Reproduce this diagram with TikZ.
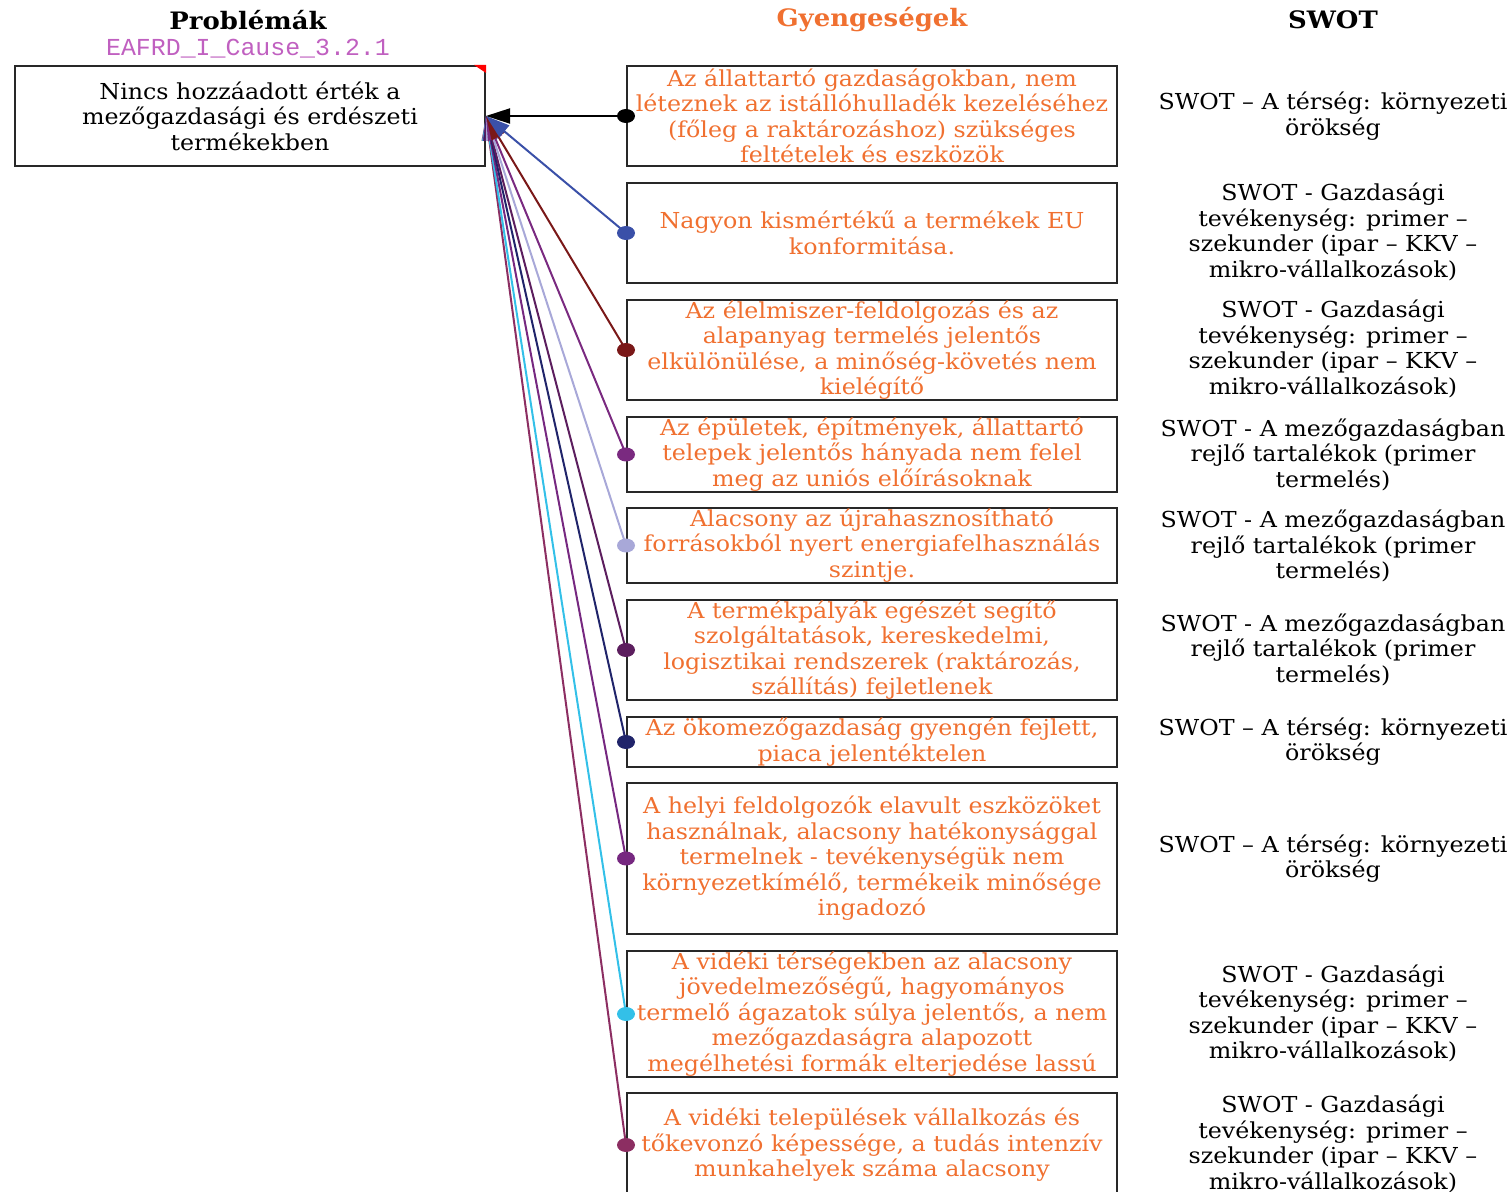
\documentclass[tikz,border=0pt]{standalone}
\usepackage{fontspec}
\setmainfont{DejaVu Serif}[FakeStretch=1.08]
\newfontfamily\monofont{Liberation Mono}[FakeStretch=1.02]
\usetikzlibrary{arrows.meta,shapes.geometric}
\definecolor{orng}{RGB}{240,112,48}
\definecolor{magl}{RGB}{192,96,192}
\definecolor{boxc}{RGB}{40,40,40}
\definecolor{c1}{RGB}{0,0,0}
\definecolor{c2}{RGB}{58,80,168}
\definecolor{c3}{RGB}{122,24,24}
\definecolor{c4}{RGB}{122,42,128}
\definecolor{c5}{RGB}{168,168,216}
\definecolor{c6}{RGB}{92,30,94}
\definecolor{c7}{RGB}{32,36,106}
\definecolor{c8}{RGB}{118,40,128}
\definecolor{c9}{RGB}{51,192,232}
\definecolor{c10}{RGB}{140,46,98}
\tikzset{
  hdr/.style={font=\fontsize{12}{14}\selectfont\bfseries, anchor=center},
  txt/.style={font=\fontsize{11}{12.75}\selectfont, align=center, inner sep=0pt},
  wbox/.style={txt, draw=boxc, line width=1pt, text=orng, minimum width=245pt},
  pbox/.style={txt, draw=boxc, line width=1pt, minimum width=235pt, minimum height=50pt},
  swot/.style={txt, text=black},
  conn/.style={line width=1pt, -{Triangle[length=12pt,width=7.5pt]}},
  dotm/.style={ellipse, fill, minimum width=9pt, minimum height=7pt, inner sep=0pt},
}
\begin{document}
\begin{tikzpicture}[x=0.5pt,y=-0.5pt]
\useasboundingbox (0,0) rectangle (1512,1192);
% headers
\node[hdr] (hp) at (248,20) {Problémák};
\node[hdr, text=orng] (hg) at (872,20) {Gyengeségek};
\node[hdr] (hs) at (1333,20) {SWOT};
\node[font=\monofont\fontsize{12.2}{14}\selectfont, text=magl, inner sep=0pt] (code) at (248,49) {EAFRD\_I\_Cause\_3.2.1};
% problem box
\node[pbox] (prob) at (250,116) {Nincs hozzáadott érték a\\mezőgazdasági és erdészeti\\termékekben};
\fill[red] (prob.north east) -- ++(-12,0) -- ++(12,8) -- cycle;
% weakness boxes
\node[wbox, minimum height=50pt] (w1) at (872,116) {Az állattartó gazdaságokban, nem\\léteznek az istállóhulladék kezeléséhez\\(főleg a raktározáshoz) szükséges\\feltételek és eszközök};
\node[wbox, minimum height=50pt] (w2) at (872,233) {Nagyon kismértékű a termékek EU\\konformitása.};
\node[wbox, minimum height=50pt] (w3) at (872,350) {Az élelmiszer-feldolgozás és az\\alapanyag termelés jelentős\\elkülönülése, a minőség-követés nem\\kielégítő};
\node[wbox, minimum height=37.5pt] (w4) at (872,454.5) {Az épületek, építmények, állattartó\\telepek jelentős hányada nem felel\\meg az uniós előírásoknak};
\node[wbox, minimum height=37.5pt] (w5) at (872,545.5) {Alacsony az újrahasznosítható\\forrásokból nyert energiafelhasználás\\szintje.};
\node[wbox, minimum height=50pt] (w6) at (872,650) {A termékpályák egészét segítő\\szolgáltatások, kereskedelmi,\\logisztikai rendszerek (raktározás,\\szállítás) fejletlenek};
\node[wbox, minimum height=25pt] (w7) at (872,742) {Az ökomezőgazdaság gyengén fejlett,\\piaca jelentéktelen};
\node[wbox, minimum height=75.5pt] (w8) at (872,858.5) {A helyi feldolgozók elavult eszközöket\\használnak, alacsony hatékonysággal\\termelnek - tevékenységük nem\\környezetkímélő, termékeik minősége\\ingadozó};
\node[wbox, minimum height=63pt] (w9) at (872,1014) {A vidéki térségekben az alacsony\\jövedelmezőségű, hagyományos\\termelő ágazatok súlya jelentős, a nem\\mezőgazdaságra alapozott\\megélhetési formák elterjedése lassú};
\node[wbox, minimum height=52pt] (w10) at (872,1145) {A vidéki települések vállalkozás és\\tőkevonzó képessége, a tudás intenzív\\munkahelyek száma alacsony};
% SWOT texts
\node[swot] (s1) at (1333,116) {SWOT – A térség: környezeti\\örökség};
\node[swot] (s2) at (1333,232) {SWOT - Gazdasági\\tevékenység: primer –\\szekunder (ipar – KKV –\\mikro-vállalkozások)};
\node[swot] (s3) at (1333,349) {SWOT - Gazdasági\\tevékenység: primer –\\szekunder (ipar – KKV –\\mikro-vállalkozások)};
\node[swot] (s4) at (1333,454.5) {SWOT - A mezőgazdaságban\\rejlő tartalékok (primer\\termelés)};
\node[swot] (s5) at (1333,546) {SWOT - A mezőgazdaságban\\rejlő tartalékok (primer\\termelés)};
\node[swot] (s6) at (1333,649.5) {SWOT - A mezőgazdaságban\\rejlő tartalékok (primer\\termelés)};
\node[swot] (s7) at (1333,741.5) {SWOT – A térség: környezeti\\örökség};
\node[swot] (s8) at (1333,858.5) {SWOT – A térség: környezeti\\örökség};
\node[swot] (s9) at (1333,1013.5) {SWOT - Gazdasági\\tevékenység: primer –\\szekunder (ipar – KKV –\\mikro-vállalkozások)};
\node[swot] (s10) at (1333,1144) {SWOT - Gazdasági\\tevékenység: primer –\\szekunder (ipar – KKV –\\mikro-vállalkozások)};
% connectors
\foreach \i in {10,9,8,7,6,5,4,3,2,1}{
  \draw[conn, c\i] (w\i.west) -- (prob.east);
}
\foreach \i in {1,...,10}{
  \node[dotm, c\i] (d\i) at (w\i.west) {};
}
\end{tikzpicture}
\end{document}
